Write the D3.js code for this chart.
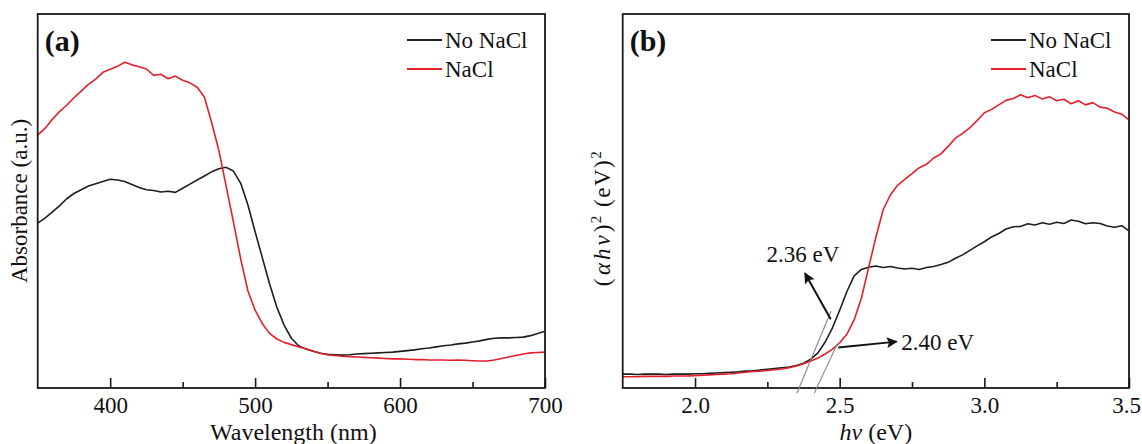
<!DOCTYPE html>
<html>
<head>
<meta charset="utf-8">
<script src="https://cdn.jsdelivr.net/npm/d3@7"></script>
<style>
  html, body { margin: 0; padding: 0; background: #fff; }
  svg { display: block; }
  text { font-family: "Liberation Serif", "Times New Roman", serif; fill: #111; }
</style>
</head>
<body>
<svg id="chart" width="1142" height="444"></svg>
<script>
// ---------------- DATA ----------------
// Panel (a): absorbance spectra, wavelength (nm)
const wavelength = d3.range(350, 701, 5);
const absNoNaCl = [44.1,45.4,47.0,48.7,50.6,52.0,53.0,54.0,54.6,55.2,55.8,55.6,55.2,54.4,53.6,53.0,52.8,52.4,52.6,52.3,
  53.4,54.5,55.6,56.7,57.8,58.6,59.0,58.0,54.8,49.0,41.8,34.8,27.8,21.6,16.8,13.3,11.3,10.4,9.8,9.3,
  9.0,8.9,8.8,8.9,9.1,9.2,9.3,9.4,9.5,9.6,9.8,10.0,10.2,10.5,10.7,11.0,11.3,11.5,11.8,12.0,
  12.3,12.6,13.0,13.3,13.4,13.4,13.5,13.6,14.0,14.6,15.2];
const absNaCl = [67.6,69.4,71.8,73.9,75.6,77.6,79.4,81.2,82.6,84.4,85.2,86.0,87.1,86.4,85.9,85.3,83.6,83.9,82.7,83.4,
  82.3,81.6,80.4,77.8,71.0,63.5,54.0,44.5,34.6,26.0,20.8,17.2,14.6,13.1,12.2,11.6,11.0,10.5,9.9,9.3,
  8.9,8.7,8.5,8.4,8.3,8.2,8.1,8.0,7.9,7.8,7.8,7.7,7.6,7.6,7.5,7.5,7.5,7.4,7.5,7.4,
  7.3,7.2,7.2,7.5,7.9,8.3,8.7,9.1,9.4,9.5,9.6];
const ticksA = [400, 500, 600, 700];
const minorTicksA = [450, 550, 650];

// Panel (b): Tauc plot, photon energy (eV)
const energy = d3.range(0, 71).map(i => +(1.75 + i * 0.025).toFixed(3));
const taucNoNaCl = [3.7,3.7,3.6,3.7,3.7,3.7,3.6,3.7,3.7,3.7,3.8,3.8,3.9,4.0,4.1,4.2,4.3,4.5,4.6,4.8,
  5.0,5.2,5.4,5.6,6.0,6.6,7.7,9.4,12.3,16.1,20.8,25.8,30.0,31.7,32.3,32.6,32.2,32.5,32.1,31.8,
  32.0,31.7,32.2,32.5,33.0,33.6,34.7,35.6,36.8,38.0,39.1,40.4,41.3,42.5,43.1,43.2,43.9,43.6,44.2,43.8,
  44.3,44.0,44.9,44.6,43.9,44.2,44.0,43.3,43.0,43.4,42.0];
const taucNaCl = [3.0,3.0,3.0,3.1,3.1,3.1,3.1,3.2,3.2,3.2,3.3,3.4,3.5,3.6,3.7,3.8,4.0,4.2,4.4,4.5,
  4.7,4.9,5.1,5.4,5.9,6.5,7.2,8.0,9.1,10.4,12.1,14.4,18.2,24.0,32.2,40.3,47.6,51.6,54.2,55.8,
  57.3,58.9,59.8,61.5,62.6,64.6,66.8,68.1,69.6,71.5,73.6,74.5,75.7,76.9,77.4,78.4,77.6,78.2,77.3,77.9,
  76.8,77.2,76.0,76.8,75.7,76.3,75.1,74.8,73.8,73.2,71.7];
const ticksB = [2.0, 2.5, 3.0, 3.5];
const minorTicksB = [2.25, 2.75, 3.25];
// Tangent (extrapolation) lines: [eV, value] endpoints
const tangentNoNaCl = [[2.352, -1.4], [2.47, 20.5]];
const tangentNaCl = [[2.412, -1.4], [2.49, 11.5]];
// Annotations: arrow tail, arrow tip, label anchor
const annotations = [
  { label: "2.36 eV", tail: [2.469, 18.4], tip: [2.380, 30.7], text: [2.373, 33.6], anchor: "middle" },
  { label: "2.40 eV", tail: [2.495, 10.8], tip: [2.697, 12.4], text: [2.713, 10.2], anchor: "start" }
];
const seriesNames = ["No NaCl", "NaCl"];
const seriesColors = ["#1e1e1e", "#e3202b"];

// ---------------- LAYOUT ----------------
const svg = d3.select("#chart");
const plotTop = 14, plotBottom = 388;
const panels = [
  { left: 37.7, right: 545, letter: "(a)", domain: [350, 700], x: wavelength,
    ys: [absNoNaCl, absNaCl], ticks: ticksA, minor: minorTicksA, fmt: d3.format("d") },
  { left: 622.7, right: 1129, letter: "(b)", domain: [1.75, 3.5], x: energy,
    ys: [taucNoNaCl, taucNaCl], ticks: ticksB, minor: minorTicksB, fmt: d3.format(".1f") }
];

svg.append("defs").append("marker")
  .attr("id", "arrow").attr("viewBox", "0 0 10 10")
  .attr("refX", 9).attr("refY", 5)
  .attr("markerWidth", 7.5).attr("markerHeight", 5.5)
  .attr("markerUnits", "strokeWidth")
  .attr("orient", "auto")
  .append("path").attr("d", "M0,0 L10,5 L0,10 L2,5 Z").attr("fill", "#111");

panels.forEach((p, pi) => {
  const x = d3.scaleLinear().domain(p.domain).range([p.left, p.right]);
  const y = d3.scaleLinear().domain([0, 100]).range([plotBottom, plotTop]);
  p.xs = x; p.yscale = y;
  const g = svg.append("g");

  // curves
  const line = d3.line().x((d, i) => x(p.x[i])).y(d => y(d));
  p.ys.forEach((vals, si) => {
    g.append("path").datum(vals)
      .attr("d", line)
      .attr("fill", "none")
      .attr("stroke", seriesColors[si])
      .attr("stroke-width", 1.6)
      .attr("stroke-linejoin", "round");
  });

  // axes ticks
  const ax = d3.axisBottom(x).tickValues(p.ticks).tickFormat(p.fmt).tickSize(-10).tickPadding(9);
  const axg = g.append("g").attr("transform", `translate(0,${plotBottom})`).call(ax);
  axg.select(".domain").remove();
  axg.selectAll(".tick line").attr("stroke", "#1a1a1a").attr("stroke-width", 1.6);
  axg.selectAll(".tick text").attr("font-size", 23).attr("fill", "#111")
    .style("font-family", "'Liberation Serif', serif")
    .attr("dx", (d, i, n) => (pi === 1 && i === n.length - 1) ? -3 : 0);
  const mx = d3.axisBottom(x).tickValues(p.minor).tickFormat("").tickSize(-6);
  const mg = g.append("g").attr("transform", `translate(0,${plotBottom})`).call(mx);
  mg.select(".domain").remove();
  mg.selectAll(".tick line").attr("stroke", "#1a1a1a").attr("stroke-width", 1.6);

  // frame
  g.append("rect").attr("x", p.left).attr("y", plotTop)
    .attr("width", p.right - p.left).attr("height", plotBottom - plotTop)
    .attr("fill", "none").attr("stroke", "#1a1a1a").attr("stroke-width", 1.8);

  // panel letter
  g.append("text").attr("x", p.left + 7).attr("y", plotTop + 37)
    .attr("font-size", 30).attr("font-weight", "bold").text(p.letter);

  // legend
  seriesNames.forEach((n, si) => {
    const ly = 40 + si * 29;
    g.append("line").attr("x1", p.right - 138).attr("x2", p.right - 103)
      .attr("y1", ly).attr("y2", ly)
      .attr("stroke", seriesColors[si]).attr("stroke-width", 2);
    g.append("text").attr("x", p.right - 100).attr("y", ly)
      .attr("dy", "0.35em").attr("font-size", 23).text(n);
  });
});

// axis titles
const pa = panels[0], pb = panels[1];
svg.append("text").attr("x", (pa.left + pa.right) / 2 + 2).attr("y", 440)
  .attr("text-anchor", "middle").attr("font-size", 24).text("Wavelength (nm)");
svg.append("text").attr("transform", `translate(27,${(plotTop + plotBottom) / 2}) rotate(-90)`)
  .attr("text-anchor", "middle").attr("font-size", 23).text("Absorbance (a.u.)");

const xt = svg.append("text").attr("x", (pb.left + pb.right) / 2).attr("y", 440)
  .attr("text-anchor", "middle").attr("font-size", 24);
xt.append("tspan").attr("font-style", "italic").text("hν");
xt.append("tspan").text(" (eV)");

const yt = svg.append("text").attr("transform", `translate(610,218) rotate(-90)`)
  .attr("text-anchor", "middle").attr("font-size", 23).attr("letter-spacing", 1.5);
yt.append("tspan").text("(");
yt.append("tspan").attr("font-style", "italic").attr("dx", 2).attr("letter-spacing", 3).text("αhν");
yt.append("tspan").text(")");
yt.append("tspan").attr("font-size", 15).attr("dy", "-0.6em").text("2");
yt.append("tspan").attr("dy", "0.4em").text(" (eV)");
yt.append("tspan").attr("font-size", 15).attr("dy", "-0.6em").text("2");

// tangent lines and annotations (panel b)
const xb = pb.xs, yb = pb.yscale;
[tangentNoNaCl, tangentNaCl].forEach(t => {
  svg.append("line")
    .attr("x1", xb(t[0][0])).attr("y1", yb(t[0][1]))
    .attr("x2", xb(t[1][0])).attr("y2", yb(t[1][1]))
    .attr("stroke", "#8a8a8a").attr("stroke-width", 1.1);
});
annotations.forEach(a => {
  svg.append("line")
    .attr("x1", xb(a.tail[0])).attr("y1", yb(a.tail[1]))
    .attr("x2", xb(a.tip[0])).attr("y2", yb(a.tip[1]))
    .attr("stroke", "#111").attr("stroke-width", 2)
    .attr("marker-end", "url(#arrow)");
  svg.append("text").attr("x", xb(a.text[0])).attr("y", yb(a.text[1]))
    .attr("text-anchor", a.anchor).attr("font-size", 23).text(a.label);
});
</script>
</body>
</html>
